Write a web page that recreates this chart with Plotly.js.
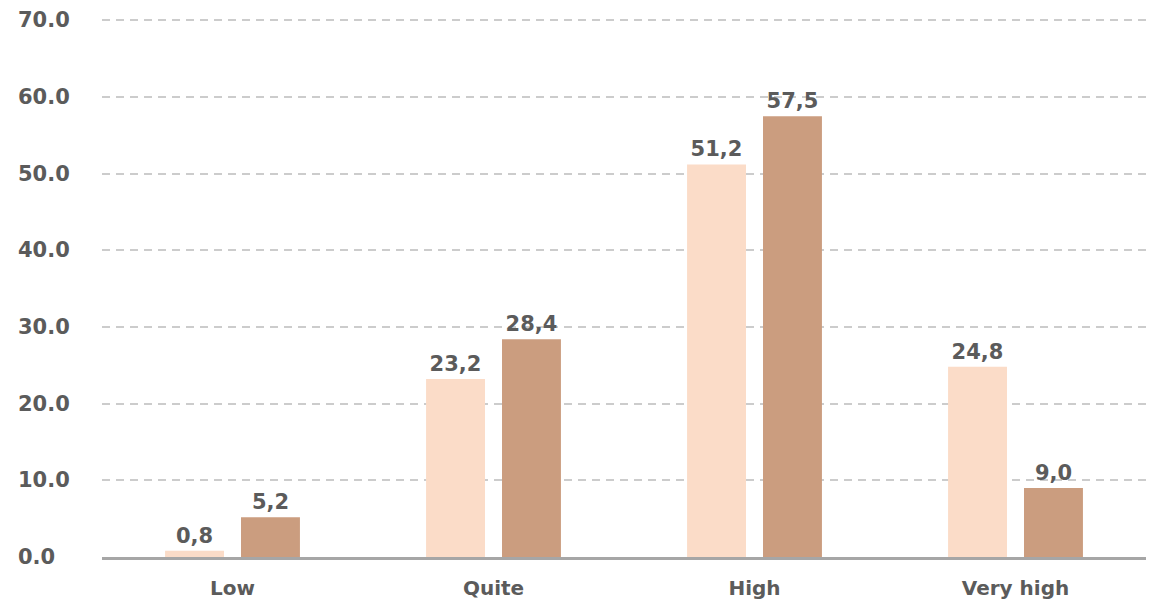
<!DOCTYPE html>
<html>
<head>
<meta charset="utf-8">
<script src="https://cdn.plot.ly/plotly-3.0.1.min.js"></script>
<style>
  html, body { margin: 0; padding: 0; background: #ffffff; }
  #chart { width: 1162px; height: 602px; }
</style>
</head>
<body>
<div id="chart"></div>
<script>
// Levels shown along the x axis
const categories = ["Low", "Quite", "High", "Very high"];

// Two series, values in percent
const seriesLight = [0.8, 23.2, 51.2, 24.8];
const seriesDark = [5.2, 28.4, 57.5, 9.0];

// y axis ticks
const yTickValues = [0, 10, 20, 30, 40, 50, 60, 70];
const yTickLabels = ["0.0", "10.0", "20.0", "30.0", "40.0", "50.0", "60.0", "70.0"];

const textColor = "#5b5b5b";
const fontFamily = "'DejaVu Sans', sans-serif";

// labels use a comma as the decimal separator
const fmt = v => v.toFixed(1).replace(".", ",");

const labelFont = { family: fontFamily, size: 21, color: textColor, weight: 700 };
const yLabelFont = { family: fontFamily, size: 21, color: textColor, weight: 700 };

const marginL = 102, marginR = 16;
const plotWidth = 1162 - marginL - marginR;

const traces = [
  {
    type: "bar",
    name: "Series 1",
    x: categories,
    y: seriesLight,
    text: seriesLight.map(fmt),
    textposition: "outside",
    textfont: labelFont,
    cliponaxis: false,
    marker: { color: "#fbdcc8" },
    hoverinfo: "x+y"
  },
  {
    type: "bar",
    name: "Series 2",
    x: categories,
    y: seriesDark,
    text: seriesDark.map(fmt),
    textposition: "outside",
    textfont: labelFont,
    cliponaxis: false,
    marker: { color: "#cb9d7f" },
    hoverinfo: "x+y"
  }
];

// y tick labels sit left-aligned in the left margin
const yLabelAnnotations = yTickValues.map((v, i) => ({
  xref: "paper",
  yref: "y",
  x: (16 - marginL) / plotWidth,
  y: v,
  xanchor: "left",
  yanchor: "middle",
  text: yTickLabels[i],
  showarrow: false,
  font: yLabelFont
}));

const layout = {
  width: 1162,
  height: 602,
  margin: { l: marginL, r: marginR, t: 18, b: 45 },
  paper_bgcolor: "#ffffff",
  plot_bgcolor: "#ffffff",
  showlegend: false,
  barmode: "group",
  bargap: 0.418,
  bargroupgap: 0.224,
  font: { family: fontFamily, color: textColor },
  annotations: yLabelAnnotations,
  xaxis: {
    type: "category",
    showgrid: false,
    showline: true,
    linecolor: "#a6a6a6",
    linewidth: 3,
    ticks: "outside",
    ticklen: 11,
    tickcolor: "rgba(0,0,0,0)",
    tickfont: { family: fontFamily, size: 20, color: textColor, weight: 700 },
    zeroline: false
  },
  yaxis: {
    range: [0, 70.3],
    tickvals: yTickValues,
    showticklabels: false,
    showgrid: true,
    gridcolor: "#cccccc",
    gridwidth: 2,
    griddash: "8px,6px",
    showline: false,
    zeroline: false,
    ticks: ""
  }
};

Plotly.newPlot("chart", traces, layout, { displayModeBar: false, staticPlot: true });
</script>
</body>
</html>
